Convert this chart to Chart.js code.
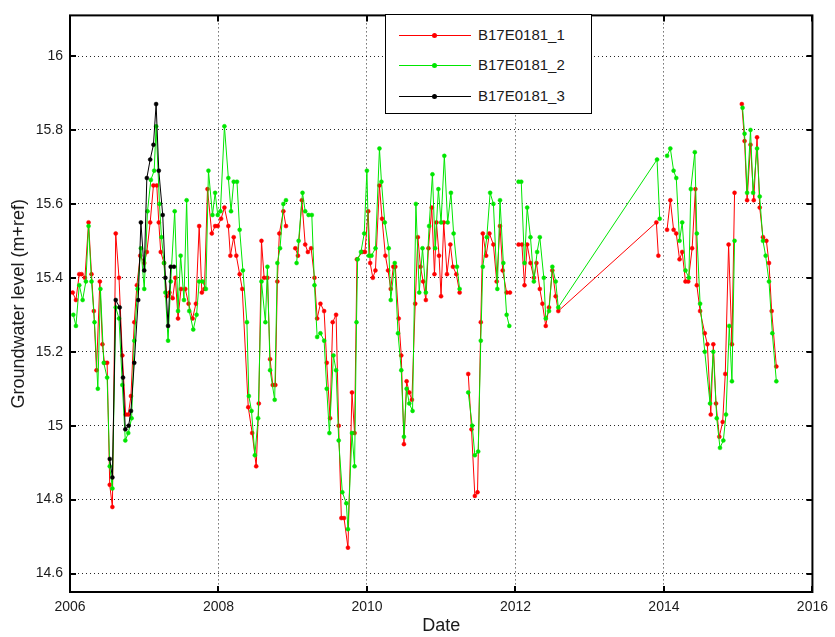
<!DOCTYPE html>
<html>
<head>
<meta charset="utf-8">
<script src="https://cdn.jsdelivr.net/npm/chart.js@4.4.1/dist/chart.umd.min.js"></script>
<style>
  html, body { margin: 0; padding: 0; background: #fff; }
  #wrap { position: relative; width: 835px; height: 637px; }
  #legend {
    position: absolute; left: 385px; top: 14px; width: 207px; height: 100px;
    border: 1px solid #000; background: #fff; box-sizing: border-box;
    font-family: 'Liberation Sans', Arial, sans-serif; font-size: 15px; color: #1a1a1a;
  }
  .item { position: absolute; left: 0; height: 20px; width: 100%; }
  .item .ln { position: absolute; left: 13px; width: 72px; top: 10px; height: 1px; }
  .item .dt { position: absolute; left: 46px; top: 8px; width: 5px; height: 5px; border-radius: 50%; }
  .item .tx { position: absolute; left: 92px; top: 1px; line-height: 18px; }
</style>
</head>
<body>
<div id="wrap">
  <canvas id="c"></canvas>
  <div id="legend"></div>
</div>
<script>
// ---------- data (decimal year, groundwater level m+ref) ----------
const seriesNames = ['B17E0181_1', 'B17E0181_2', 'B17E0181_3'];

const redDates = [
  2006.036, 2006.080, 2006.125, 2006.156, 2006.201, 2006.250, 2006.290, 2006.321, 2006.357, 2006.402, 2006.437, 2006.464,
  2006.500, 2006.535, 2006.571, 2006.616, 2006.660, 2006.705, 2006.750, 2006.785, 2006.821, 2006.866, 2006.901, 2006.946,
  2007.000, 2007.035, 2007.080, 2007.124, 2007.169, 2007.196, 2007.222, 2007.267, 2007.303, 2007.339, 2007.383, 2007.419,
  2007.455, 2007.495, 2007.553, 2007.597, 2007.651, 2007.696, 2007.740, 2007.776, 2007.811, 2007.852, 2007.910, 2007.955, 2007.990,
  2008.035, 2008.080, 2008.133, 2008.160, 2008.205, 2008.240, 2008.285, 2008.320, 2008.401, 2008.454, 2008.508, 2008.543,
  2008.579, 2008.615, 2008.659, 2008.695, 2008.731, 2008.766, 2008.793, 2008.820, 2008.874, 2008.909, 2008.970,
  2009.035, 2009.070, 2009.123, 2009.168, 2009.204, 2009.248, 2009.293, 2009.329, 2009.373, 2009.423, 2009.458, 2009.503,
  2009.538, 2009.584, 2009.619, 2009.655, 2009.691, 2009.744, 2009.798, 2009.833, 2009.865, 2009.936, 2009.972,
  2010.016, 2010.043, 2010.079, 2010.114, 2010.168, 2010.203, 2010.248, 2010.284, 2010.320, 2010.355, 2010.382, 2010.427,
  2010.462, 2010.498, 2010.534, 2010.569, 2010.605, 2010.650, 2010.685, 2010.721, 2010.757, 2010.793, 2010.828, 2010.873,
  2010.909, 2010.936, 2010.971, 2010.998,
  2011.034, 2011.078, 2011.123, 2011.158, 2011.203, 2011.248, 2011.300, 2011.364, 2011.408, 2011.453, 2011.489, 2011.533,
  2011.560, 2011.605, 2011.649, 2011.703, 2011.747, 2011.792, 2011.828, 2011.881, 2011.926, 2011.980,
  2012.042, 2012.087, 2012.122, 2012.158, 2012.202, 2012.248, 2012.283, 2012.328, 2012.363, 2012.408, 2012.452, 2012.497,
  2012.542, 2012.577,
  2013.898, 2013.925, 2013.980,
  2014.042, 2014.086, 2014.130, 2014.166, 2014.210, 2014.246, 2014.290, 2014.327, 2014.380, 2014.424, 2014.443, 2014.487,
  2014.550, 2014.585, 2014.631, 2014.665, 2014.701, 2014.746, 2014.791, 2014.826, 2014.871, 2014.916, 2014.951, 2015.000,
  2015.049, 2015.086, 2015.120, 2015.166, 2015.210, 2015.254, 2015.290, 2015.334, 2015.380, 2015.415, 2015.451, 2015.514
];
const redValues = [
  15.36, 15.34, 15.41, 15.41, 15.40, 15.55, 15.41, 15.31, 15.15, 15.39, 15.22, 15.17,
  15.17, 14.84, 14.78, 15.52, 15.40, 15.19, 15.03, 15.03, 15.08, 15.28, 15.38, 15.46,
  15.44, 15.47, 15.55, 15.65, 15.65, 15.55, 15.47, 15.44, 15.35, 15.36, 15.345, 15.40,
  15.29, 15.37, 15.37, 15.33, 15.29, 15.33, 15.54, 15.36, 15.37, 15.64, 15.52, 15.54, 15.54,
  15.56, 15.59, 15.54, 15.46, 15.51, 15.46, 15.41, 15.37, 15.05, 14.98, 14.89, 15.06,
  15.50, 15.40, 15.40, 15.18, 15.11, 15.11, 15.39, 15.52, 15.58, 15.54, null,
  15.48, 15.46, 15.61, 15.49, 15.47, 15.48, 15.40, 15.29, 15.33, 15.31, 15.17, 15.02,
  15.28, 15.30, 15.00, 14.75, 14.75, 14.67, 15.09, 14.98, 15.45, 15.47, 15.47,
  15.58, 15.44, 15.40, 15.42, 15.65, 15.56, 15.46, 15.42, 15.37, 15.43, 15.43, 15.29,
  15.19, 14.95, 15.12, 15.09, 15.07, 15.33, 15.51, 15.43, 15.39, 15.34, 15.48, 15.59,
  15.41, 15.55, 15.46, 15.35,
  15.55, 15.41, 15.49, 15.43, 15.41, 15.36, null, 15.14, 14.99, 14.81, 14.82, 15.28,
  15.52, 15.46, 15.52, 15.49, 15.39, 15.54, 15.42, 15.36, 15.36, null,
  15.49, 15.49, 15.38, 15.49, 15.44, 15.40, 15.44, 15.37, 15.33, 15.27, 15.32, 15.42,
  15.35, 15.31,
  15.55, 15.46, null,
  15.53, 15.61, 15.53, 15.52, 15.45, 15.47, 15.39, 15.39, 15.48, 15.64, 15.38, 15.31,
  15.25, 15.22, 15.03, 15.22, 15.06, 14.97, 15.01, 15.14, 15.49, 15.22, 15.63, null,
  15.87, 15.77, 15.61, 15.76, 15.61, 15.78, 15.59, 15.51, 15.50, 15.44, 15.31, 15.16
];

const greenDates = [
  2006.045, 2006.080, 2006.125, 2006.170, 2006.214, 2006.250, 2006.290, 2006.330, 2006.375, 2006.410, 2006.455, 2006.500,
  2006.535, 2006.571, 2006.616, 2006.660, 2006.705, 2006.745, 2006.785, 2006.830, 2006.866, 2006.910, 2006.955,
  2007.000, 2007.044, 2007.089, 2007.134, 2007.160, 2007.205, 2007.232, 2007.267, 2007.285, 2007.321, 2007.357, 2007.410,
  2007.455, 2007.490, 2007.535, 2007.571, 2007.606, 2007.660, 2007.705, 2007.740, 2007.785, 2007.830, 2007.865, 2007.919,
  2007.955, 2007.990,
  2008.026, 2008.080, 2008.133, 2008.169, 2008.205, 2008.249, 2008.285, 2008.329, 2008.383, 2008.409, 2008.445, 2008.490,
  2008.534, 2008.579, 2008.632, 2008.659, 2008.695, 2008.757, 2008.793, 2008.829, 2008.874, 2008.909, 2008.970,
  2009.052, 2009.079, 2009.132, 2009.168, 2009.213, 2009.257, 2009.293, 2009.329, 2009.373, 2009.423, 2009.458, 2009.494,
  2009.548, 2009.584, 2009.619, 2009.668, 2009.722, 2009.744, 2009.798, 2009.833, 2009.859, 2009.874, 2009.919, 2009.963, 2009.999,
  2010.026, 2010.061, 2010.115, 2010.168, 2010.195, 2010.240, 2010.293, 2010.320, 2010.374, 2010.418, 2010.462, 2010.498,
  2010.534, 2010.570, 2010.614, 2010.659, 2010.704, 2010.748, 2010.793, 2010.837, 2010.882, 2010.918, 2010.962, 2010.998,
  2011.042, 2011.087, 2011.131, 2011.167, 2011.212, 2011.248, 2011.300, 2011.364, 2011.418, 2011.453, 2011.498, 2011.533,
  2011.560, 2011.614, 2011.659, 2011.703, 2011.756, 2011.792, 2011.837, 2011.881, 2011.917, 2011.980,
  2012.042, 2012.078, 2012.122, 2012.158, 2012.202, 2012.248, 2012.292, 2012.328, 2012.382, 2012.408, 2012.452, 2012.497,
  2012.542, 2012.577,
  2013.907, 2013.943, 2013.990,
  2014.042, 2014.086, 2014.130, 2014.166, 2014.210, 2014.246, 2014.290, 2014.336, 2014.362, 2014.416, 2014.443, 2014.487,
  2014.550, 2014.621, 2014.665, 2014.711, 2014.755, 2014.800, 2014.836, 2014.880, 2014.916, 2014.951, 2015.000,
  2015.059, 2015.086, 2015.120, 2015.166, 2015.201, 2015.254, 2015.290, 2015.334, 2015.370, 2015.415, 2015.460, 2015.514
];
const greenValues = [
  15.30, 15.27, 15.38, 15.34, 15.39, 15.54, 15.39, 15.28, 15.10, 15.37, 15.17, 15.13,
  14.89, 14.83, 15.32, 15.29, 15.11, 14.96, 14.98, 15.02, 15.23, 15.37, 15.48,
  15.37, 15.58, 15.665, 15.69, 15.81, 15.60, 15.51, 15.44, 15.36, 15.23, 15.39, 15.58,
  15.31, 15.46, 15.34, 15.61, 15.31, 15.26, 15.30, 15.39, 15.39, 15.37, 15.69, 15.57,
  15.63, 15.57,
  15.58, 15.81, 15.67, 15.58, 15.66, 15.66, 15.53, 15.42, 15.28, 15.08, 15.04, 14.92,
  15.02, 15.39, 15.28, 15.43, 15.15, 15.07, 15.44, 15.48, 15.60, 15.61, null,
  15.44, 15.50, 15.63, 15.58, 15.57, 15.57, 15.38, 15.24, 15.25, 15.23, 15.10, 14.98,
  15.19, 15.15, 14.96, 14.82, 14.79, 14.72, 14.98, 14.89, 15.28, 15.45, 15.47, 15.52, 15.69,
  15.46, 15.46, 15.48, 15.75, 15.66, 15.55, 15.48, 15.34, 15.44, 15.25, 15.15, 14.97,
  15.10, 15.06, 15.04, 15.60, 15.36, 15.48, 15.36, 15.54, 15.68, 15.48, 15.64, 15.55,
  15.73, 15.55, 15.63, 15.52, 15.43, 15.37, null, 15.09, 15.00, 14.92, 14.93, 15.23,
  15.43, 15.51, 15.63, 15.60, 15.37, 15.61, 15.44, 15.30, 15.27, null,
  15.66, 15.66, 15.44, 15.59, 15.51, 15.39, 15.47, 15.51, 15.40, 15.29, 15.31, 15.43,
  15.39, 15.32,
  15.72, 15.56, null,
  15.73, 15.75, 15.69, 15.67, 15.50, 15.55, 15.42, 15.40, 15.64, 15.74, 15.52, 15.33,
  15.20, 15.06, 15.20, 15.02, 14.94, 14.96, 15.03, 15.27, 15.12, 15.50, null,
  15.86, 15.79, 15.63, 15.80, 15.63, 15.75, 15.62, 15.50, 15.46, 15.39, 15.25, 15.12
];

const blackDates = [
  2006.535, 2006.571, 2006.616, 2006.669, 2006.714, 2006.745, 2006.790, 2006.821, 2006.866, 2006.919, 2006.955,
  2007.000, 2007.035, 2007.080, 2007.124, 2007.160, 2007.196, 2007.249, 2007.285, 2007.321, 2007.356, 2007.401
];
const blackValues = [
  14.91, 14.86, 15.34, 15.32, 15.13, 14.99, 15.00, 15.04, 15.17, 15.34, 15.55,
  15.42, 15.67, 15.72, 15.76, 15.87, 15.69, 15.57, 15.40, 15.27, 15.43, 15.43
];

const xTicks = [2006, 2008, 2010, 2012, 2014, 2016];
const yTicks = [14.6, 14.8, 15.0, 15.2, 15.4, 15.6, 15.8, 16.0];
const xTitle = 'Date';
const yTitle = 'Groundwater level (m+ref)';
// -------------------------------------------------------------------

const seriesColors = ['#ff0000', '#00e600', '#000000'];
const allDates = [redDates, greenDates, blackDates];
const allValues = [redValues, greenValues, blackValues];

function zip(d, v) { return d.map((x, i) => ({ x: x, y: v[i] })); }

const datasets = seriesNames.map((name, i) => ({
  label: name,
  data: zip(allDates[i], allValues[i]),
  borderColor: seriesColors[i],
  backgroundColor: seriesColors[i],
  borderWidth: 1,
  pointRadius: 2,
  pointBorderWidth: 0.5,
  pointBorderColor: seriesColors[i],
  pointBackgroundColor: seriesColors[i],
  pointHoverRadius: 2,
  spanGaps: false,
  tension: 0,
  fill: false,
  order: 3 - i
}));

const FONT = "'Liberation Sans', Arial, sans-serif";

const frame = {
  id: 'matlabFrame',
  afterDraw(chart) {
    const { ctx, chartArea: a, scales } = chart;
    ctx.save();
    ctx.strokeStyle = '#000';
    ctx.lineWidth = 2;
    const tl = 6;
    ctx.beginPath();
    xTicks.forEach(v => {
      const px = Math.round(scales.x.getPixelForValue(v));
      ctx.moveTo(px, a.bottom); ctx.lineTo(px, a.bottom - tl);
      ctx.moveTo(px, a.top); ctx.lineTo(px, a.top + tl);
    });
    yTicks.forEach(v => {
      const py = Math.round(scales.y.getPixelForValue(v));
      ctx.moveTo(a.left, py); ctx.lineTo(a.left + tl, py);
      ctx.moveTo(a.right, py); ctx.lineTo(a.right - tl, py);
    });
    ctx.stroke();
    ctx.strokeRect(a.left, a.top, a.right - a.left, a.bottom - a.top);
    ctx.restore();
  }
};

const chart = new Chart(document.getElementById('c'), {
  type: 'line',
  data: { datasets },
  options: {
    responsive: true,
    maintainAspectRatio: false,
    animation: false,
    layout: { padding: { top: 14, right: 18, left: 0, bottom: 0 } },
    plugins: { legend: { display: false }, tooltip: { enabled: false } },
    scales: {
      x: {
        type: 'linear',
        min: 2006, max: 2016,
        afterBuildTicks: s => { s.ticks = xTicks.map(v => ({ value: v })); },
        afterFit: s => { s.height = 45; },
        border: { display: false, dash: [1, 3] },
        grid: {
          drawTicks: false,
          lineWidth: 1,
          color: c => (c.tick && (c.tick.value === 2006 || c.tick.value === 2016)) ? 'rgba(0,0,0,0)' : 'rgba(0,0,0,0.85)'
        },
        ticks: {
          padding: 7,
          maxRotation: 0,
          color: '#1a1a1a',
          font: { family: FONT, size: 14 },
          callback: v => String(v)
        },
        title: {
          display: true, text: xTitle, color: '#1a1a1a',
          font: { family: FONT, size: 18 },
          padding: { top: 0, bottom: 0 }
        }
      },
      y: {
        type: 'linear',
        min: 14.55, max: 16.11,
        afterBuildTicks: s => { s.ticks = yTicks.map(v => ({ value: v })); },
        afterFit: s => { s.width = 70; },
        border: { display: false, dash: [1, 3] },
        grid: {
          drawTicks: false,
          lineWidth: 1,
          color: 'rgba(0,0,0,0.85)'
        },
        ticks: {
          padding: 7,
          color: '#1a1a1a',
          font: { family: FONT, size: 14 },
          callback: v => String(Math.round(v * 10) / 10)
        },
        title: {
          display: true, text: yTitle, color: '#1a1a1a',
          font: { family: FONT, size: 18 },
          padding: { top: 8, bottom: 0 }
        }
      }
    }
  },
  plugins: [frame]
});

// legend (MATLAB-style box)
const lg = document.getElementById('legend');
const rowTops = [10, 40, 71];
seriesNames.forEach((name, i) => {
  const it = document.createElement('div');
  it.className = 'item';
  it.style.top = rowTops[i] + 'px';
  it.innerHTML = '<div class="ln" style="background:' + seriesColors[i] + '"></div>' +
    '<div class="dt" style="background:' + seriesColors[i] + '"></div>' +
    '<div class="tx">' + name + '</div>';
  lg.appendChild(it);
});
</script>
</body>
</html>
